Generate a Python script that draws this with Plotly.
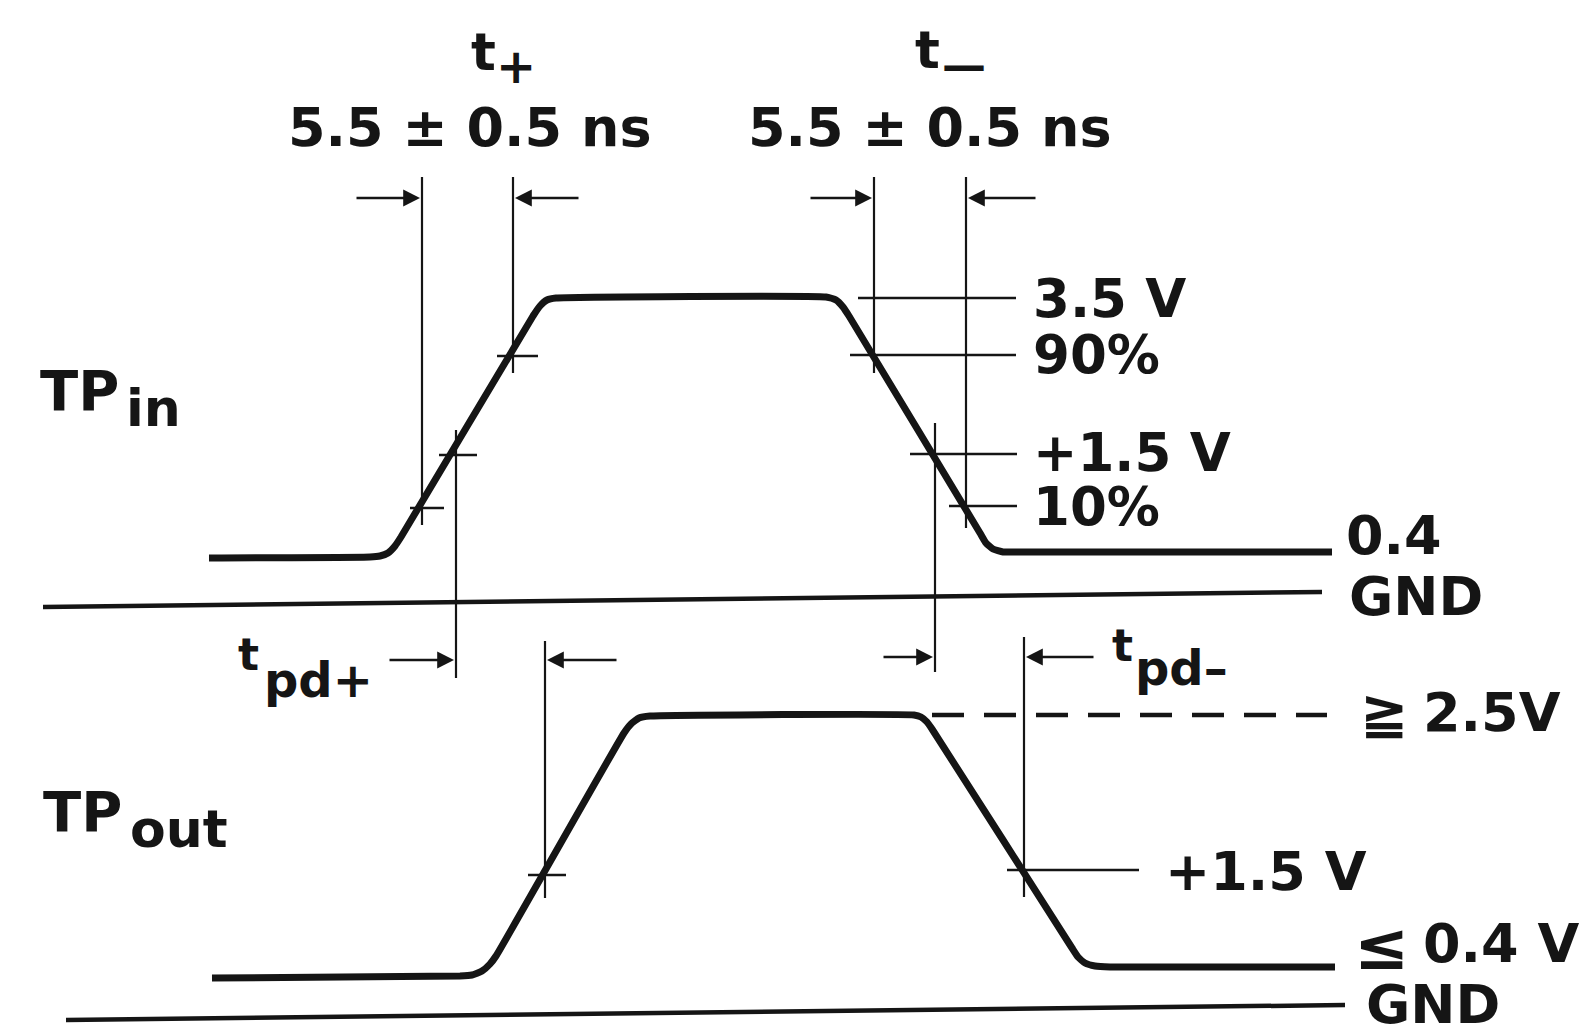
import plotly.graph_objects as go

# ---------------- data (diagram units: t = horizontal time axis, v = vertical position) ----------
TPIN_T = [209, 370, 380, 388, 395, 401, 533, 540, 547, 556, 826, 836, 843, 849,
          980, 986, 993, 1003, 1015, 1332]
TPIN_V = [558, 557, 556, 553, 546, 537, 316, 306, 300, 298, 297, 300, 307, 316,
          533, 543, 549, 552, 552, 552]

TPOUT_T = [212, 460, 472, 482, 490, 496, 624, 631, 639, 650, 914, 921, 927, 932,
           1072, 1078, 1085, 1095, 1110, 1335]
TPOUT_V = [978, 976, 975, 971, 964, 956, 733, 724, 718, 716, 715, 717, 722, 729,
           948, 957, 963, 966, 967, 967]

GND_IN_T = [43, 1322]
GND_IN_V = [607, 592]
GND_OUT_T = [66, 1345]
GND_OUT_V = [1020, 1005]

HIGH_OUT_T = [932, 1327]
HIGH_OUT_V = [715, 715]

# thin reference level lines
LEVEL_T0 = [858, 850, 910, 949, 497, 439, 410, 528, 1007]
LEVEL_T1 = [1016, 1016, 1017, 1017, 538, 477, 444, 566, 1139]
LEVEL_V = [298, 355, 454, 506, 356, 455, 508, 875, 870]

# vertical timing markers
MARK_T = [422, 513, 456, 874, 966, 935, 545, 1024]
MARK_V0 = [177, 177, 430, 177, 177, 423, 641, 637]
MARK_V1 = [525, 373, 678, 373, 528, 672, 898, 897]

# dimension arrows (tail -> head)
ARROW_T0 = [355, 580, 809, 1037, 388, 618, 882, 1095]
ARROW_T1 = [420, 515, 872, 968, 454, 547, 933, 1026]
ARROW_V = [198, 198, 198, 198, 660, 660, 657, 657]

TIMING_TEXT = "5.5 ± 0.5 ns"
IN_LEVEL_LABELS = ["3.5 V", "90%", "+1.5 V", "10%", "0.4", "GND"]
OUT_LEVEL_LABELS = ["+1.5 V", "0.4 V", "GND"]

INK = "#151515"
FONT = "DejaVu Sans"

fig = go.Figure()


def seg_trace(t0s, t1s, v0s, v1s, width, dash=None):
    xs, ys = [], []
    for a, b, c, d in zip(t0s, t1s, v0s, v1s):
        xs += [a, b, None]
        ys += [c, d, None]
    fig.add_trace(go.Scatter(x=xs, y=ys, mode="lines",
                             line=dict(color=INK, width=width, dash=dash),
                             hoverinfo="skip", showlegend=False))


# ground lines
fig.add_trace(go.Scatter(x=GND_IN_T, y=GND_IN_V, mode="lines",
                         line=dict(color=INK, width=4.5), hoverinfo="skip", showlegend=False))
fig.add_trace(go.Scatter(x=GND_OUT_T, y=GND_OUT_V, mode="lines",
                         line=dict(color=INK, width=4.5), hoverinfo="skip", showlegend=False))

# thin level lines
seg_trace(LEVEL_T0, LEVEL_T1, LEVEL_V, LEVEL_V, 2.4)
# vertical markers
seg_trace(MARK_T, MARK_T, MARK_V0, MARK_V1, 2.2)

# dashed high level of output
fig.add_trace(go.Scatter(x=HIGH_OUT_T, y=HIGH_OUT_V, mode="lines",
                         line=dict(color=INK, width=4.5, dash="32px,20px"),
                         hoverinfo="skip", showlegend=False))

# waveforms
fig.add_trace(go.Scatter(x=TPIN_T, y=TPIN_V, mode="lines",
                         line=dict(color=INK, width=7, shape="spline", smoothing=0.4),
                         hoverinfo="skip", showlegend=False))
fig.add_trace(go.Scatter(x=TPOUT_T, y=TPOUT_V, mode="lines",
                         line=dict(color=INK, width=7, shape="spline", smoothing=0.4),
                         hoverinfo="skip", showlegend=False))

# arrows
for t0, t1, v in zip(ARROW_T0, ARROW_T1, ARROW_V):
    fig.add_annotation(x=t1, y=v, ax=t0, ay=v, xref="x", yref="y", axref="x", ayref="y",
                       text="", showarrow=True, arrowhead=2, arrowsize=1.4,
                       arrowwidth=2.4, arrowcolor=INK, standoff=0)


def label(text, x, y, size, anchor="left"):
    fig.add_annotation(x=x, y=y, xref="x", yref="y", text=text, showarrow=False,
                       xanchor=anchor, yanchor="middle",
                       font=dict(family=FONT, size=size, color=INK, weight="bold"))


# top timing labels
label("t", 469, 52, 52)
label("+", 494, 66, 48)
label(TIMING_TEXT, 470, 127, 54, "center")
label("t", 913, 50, 52)
label("—", 940, 64, 44)
label(TIMING_TEXT, 930, 127, 54, "center")

# input level labels
for txt, y in zip(IN_LEVEL_LABELS[:4], [298, 354, 452, 506]):
    label(txt, 1031, y, 53)
label(IN_LEVEL_LABELS[4], 1344, 535, 54)
label(IN_LEVEL_LABELS[5], 1347, 596, 54)

# signal names
label("TP", 38, 390, 56)
label("in", 124, 408, 52)
label("TP", 41, 811, 56)
label("out", 128, 829, 52)

# propagation delay labels
label("t", 236, 654, 44)
label("pd+", 262, 680, 48)
label("t", 1110, 645, 44)
label("pd–", 1133, 668, 48)

# output level labels
label("≧", 1358, 712, 58)
label("2.5V", 1421, 712, 54)
label(OUT_LEVEL_LABELS[0], 1163, 871, 54)
label("≤", 1352, 946, 66)
label(OUT_LEVEL_LABELS[1], 1421, 943, 54)
label(OUT_LEVEL_LABELS[2], 1364, 1004, 54)

fig.update_layout(
    width=1596, height=1029,
    margin=dict(l=0, r=0, t=0, b=0),
    paper_bgcolor="white", plot_bgcolor="white",
    xaxis=dict(range=[0, 1596], visible=False, fixedrange=True),
    yaxis=dict(range=[1029, 0], visible=False, fixedrange=True),
    showlegend=False,
)

fig.write_html("out.html", config={"displayModeBar": False},
               post_script="document.body.style.margin='0';document.body.style.overflow='hidden';")
